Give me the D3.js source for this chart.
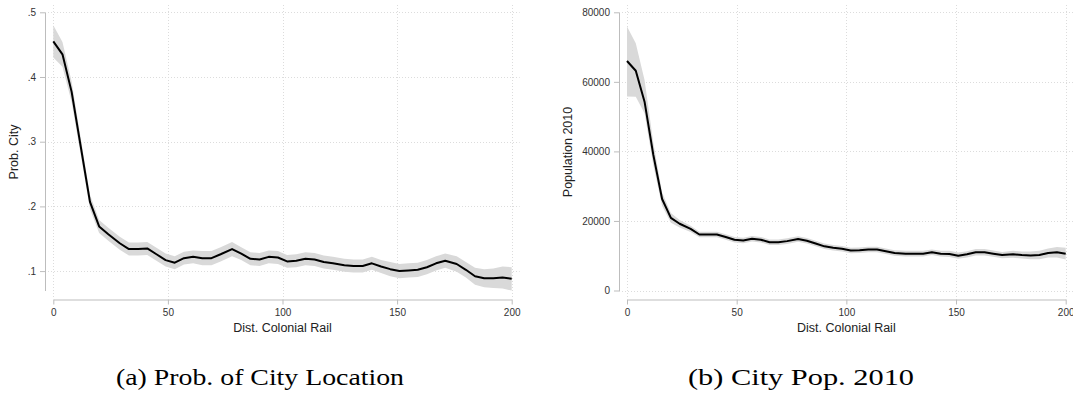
<!DOCTYPE html>
<html>
<meta charset="utf-8">
<title>Colonial rail: city location and population</title>
<style>
    body { margin: 0; background: #fff; }
    .tick text { font-family: "Liberation Sans", Arial, sans-serif; font-size: 10px; fill: #333; }
    .axis path, .axis line { stroke: #bdbdbd; stroke-width: 1px; }
    .grid line { stroke: #dcdcdc; stroke-width: 1px; stroke-dasharray: 1,2; }
    .band { fill: #d9d9d9; stroke: none; }
    .line { fill: none; stroke: #000; stroke-width: 2px; stroke-linejoin: round; }
    .title { font-family: "Liberation Sans", Arial, sans-serif; font-size: 12.5px; fill: #222; }
    .caption { font-family: "Liberation Serif", "DejaVu Serif", serif; font-size: 22.5px; fill: #000; }
</style>
<script src="https://cdn.jsdelivr.net/npm/d3@7"></script>

<body>
<script>
    // distance bins (km from colonial rail)
    const distX = [0, 4, 8, 12, 16, 20, 24, 29, 33, 37, 41, 45, 49, 53, 57, 61, 65, 69, 73, 78,
        82, 86, 90, 94, 98, 102, 106, 110, 114, 118, 122, 127, 131, 135, 139, 143, 147, 151, 155, 159,
        163, 167, 171, 176, 180, 184, 188, 192, 196, 200]

    // (a) probability of a city
    const cityProb = [0.455, 0.435, 0.377, 0.292, 0.207, 0.169, 0.157, 0.143, 0.134, 0.134,
        0.135, 0.126, 0.117, 0.113, 0.120, 0.122, 0.120, 0.120, 0.126, 0.134,
        0.127, 0.119, 0.118, 0.122, 0.121, 0.115, 0.116, 0.119, 0.118, 0.114,
        0.112, 0.109, 0.108, 0.108, 0.112, 0.107, 0.103, 0.100, 0.101, 0.102,
        0.106, 0.112, 0.116, 0.111, 0.102, 0.092, 0.089, 0.089, 0.090, 0.088]
    const cityProbLo = [0.430, 0.416, 0.361, 0.279, 0.196, 0.159, 0.147, 0.133, 0.124, 0.124,
        0.125, 0.116, 0.107, 0.103, 0.110, 0.112, 0.109, 0.109, 0.115, 0.123,
        0.117, 0.109, 0.108, 0.112, 0.111, 0.105, 0.106, 0.109, 0.108, 0.104,
        0.102, 0.099, 0.098, 0.098, 0.102, 0.097, 0.092, 0.089, 0.090, 0.091,
        0.095, 0.101, 0.105, 0.099, 0.090, 0.079, 0.075, 0.074, 0.073, 0.070]
    const cityProbHi = [0.480, 0.454, 0.393, 0.305, 0.218, 0.179, 0.167, 0.153, 0.144, 0.144,
        0.145, 0.136, 0.127, 0.123, 0.130, 0.132, 0.131, 0.131, 0.137, 0.145,
        0.137, 0.129, 0.128, 0.132, 0.131, 0.125, 0.126, 0.129, 0.128, 0.124,
        0.122, 0.119, 0.118, 0.118, 0.122, 0.117, 0.114, 0.111, 0.112, 0.113,
        0.117, 0.123, 0.127, 0.123, 0.114, 0.105, 0.103, 0.104, 0.107, 0.106]

    // (b) city population 2010
    const pop2010 = [66000, 63200, 54300, 39000, 26300, 20900, 19200, 17700, 16100, 16100,
        16100, 15400, 14600, 14400, 14900, 14600, 13900, 13900, 14200, 14800,
        14300, 13500, 12700, 12300, 12000, 11500, 11600, 11800, 11800, 11300,
        10800, 10600, 10600, 10600, 11000, 10600, 10500, 10000, 10400, 11000,
        11000, 10600, 10200, 10400, 10200, 10100, 10200, 10800, 11000, 10600]
    const pop2010Lo = [55800, 55700, 51000, 36000, 24400, 19500, 18100, 16800, 15300, 15300,
        15300, 14600, 13800, 13600, 14100, 13800, 13100, 13100, 13400, 14000,
        13500, 12700, 11900, 11500, 11200, 10700, 10800, 11000, 11000, 10500,
        10000, 9800, 9800, 9800, 10200, 9800, 9600, 9100, 9500, 10100,
        10100, 9700, 9300, 9400, 9200, 9000, 9000, 9500, 9500, 8900]
    const pop2010Hi = [75900, 71100, 60500, 42500, 28200, 22300, 20300, 18600, 16900, 16900,
        16900, 16200, 15400, 15200, 15700, 15400, 14700, 14700, 15000, 15600,
        15100, 14300, 13500, 13100, 12800, 12300, 12400, 12600, 12600, 12100,
        11600, 11400, 11400, 11400, 11800, 11400, 11400, 10900, 11300, 11900,
        11900, 11500, 11100, 11400, 11200, 11200, 11400, 12100, 12500, 12300]

    const xTicks = [0, 50, 100, 150, 200]
    const probTicks = [0.1, 0.2, 0.3, 0.4, 0.5]
    const popTicks = [0, 20000, 40000, 60000, 80000]

    const W = 1073, H = 397
    const svg = d3.select("body").append("svg").attr("width", W).attr("height", H)

    function panel(o) {
        const x = d3.scaleLinear().domain([0, 200]).range(o.xr)
        const y = d3.scaleLinear().domain(o.yd).range([290.5, 12.3])
        const rows = distX.map((d, i) => ({ x: d, v: o.v[i], lo: o.lo[i], hi: o.hi[i] }))
        const g = svg.append("g")

        // dotted grid
        const grid = g.append("g").attr("class", "grid")
        grid.selectAll(".gy").data(o.yt).enter().append("line")
            .attr("x1", o.axX).attr("x2", o.xr[1] + 8)
            .attr("y1", d => Math.round(y(d)) + 0.5).attr("y2", d => Math.round(y(d)) + 0.5)
        grid.selectAll(".gx").data(xTicks).enter().append("line")
            .attr("x1", d => Math.round(x(d)) + 0.5).attr("x2", d => Math.round(x(d)) + 0.5)
            .attr("y1", 5).attr("y2", 297)

        g.append("path").datum(rows).attr("class", "band")
            .attr("d", d3.area().x(d => x(d.x)).y0(d => y(d.lo)).y1(d => y(d.hi)))
        g.append("path").datum(rows).attr("class", "line")
            .attr("d", d3.line().x(d => x(d.x)).y(d => y(d.v)))

        g.append("g").attr("class", "axis")
            .attr("transform", `translate(${o.axX},0)`)
            .call(d3.axisLeft(y).tickValues(o.yt).tickSize(5).tickSizeOuter(0).tickPadding(4).tickFormat(o.fmt))
        g.append("g").attr("class", "axis")
            .attr("transform", "translate(0,299.5)")
            .call(d3.axisBottom(x).tickValues(xTicks).tickSize(5).tickSizeOuter(0).tickPadding(4).tickFormat(d3.format("d")))

        g.append("text").attr("class", "title")
            .attr("transform", `translate(${o.ytX},152) rotate(-90)`)
            .attr("text-anchor", "middle").text(o.ytitle)
        g.append("text").attr("class", "title")
            .attr("x", (o.xr[0] + o.xr[1]) / 2).attr("y", 332)
            .attr("text-anchor", "middle").text("Dist. Colonial Rail")

        // caption, fitted to the width of the original
        g.append("text").attr("class", "caption")
            .attr("x", o.capX).attr("y", 385)
            .attr("textLength", o.capW).attr("lengthAdjust", "spacingAndGlyphs")
            .text(o.caption)
    }

    panel({
        xr: [53.3, 511.7], yd: [0.07, 0.5], axX: 45, ytX: 18,
        v: cityProb, lo: cityProbLo, hi: cityProbHi, yt: probTicks,
        fmt: d => d3.format(".1f")(d).replace(/^0/, ""),
        ytitle: "Prob. City", caption: "(a) Prob. of City Location", capX: 116, capW: 288
    })
    panel({
        xr: [627, 1065.7], yd: [0, 80000], axX: 619, ytX: 572,
        v: pop2010, lo: pop2010Lo, hi: pop2010Hi, yt: popTicks,
        fmt: d3.format("d"),
        ytitle: "Population 2010", caption: "(b) City Pop. 2010", capX: 688, capW: 226
    })
</script>
</body>
</html>
